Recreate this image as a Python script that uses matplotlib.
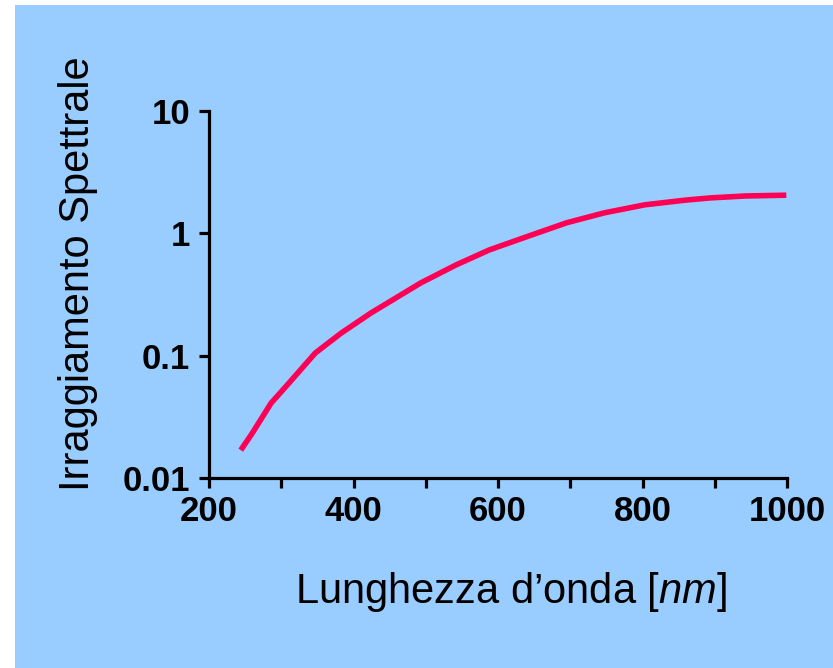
import matplotlib
matplotlib.use("Agg")
import matplotlib.pyplot as plt
from matplotlib.patches import Rectangle
from matplotlib.ticker import FixedLocator, FixedFormatter, NullLocator

# Spectral irradiance vs wavelength
wavelength = [244, 260, 286, 311, 347, 383, 424, 493, 542, 588, 639, 695,
              747, 803, 860, 895, 942, 999]
irradiance = [0.0169, 0.0233, 0.041, 0.060, 0.105, 0.153, 0.223, 0.393, 0.552,
              0.732, 0.935, 1.22, 1.47, 1.71, 1.87, 1.95, 2.02, 2.05]

x_ticks = [200, 300, 400, 500, 600, 700, 800, 900, 1000]
x_ticklabels = ["200", "", "400", "", "600", "", "800", "", "1000"]
y_ticks = [0.01, 0.1, 1, 10]
y_ticklabels = ["0.01", "0.1", "1", "10"]

FONT = ["Liberation Sans", "DejaVu Sans"]
plt.rcParams["font.family"] = FONT
plt.rcParams["mathtext.fontset"] = "custom"
plt.rcParams["mathtext.it"] = "Liberation Sans:italic"
plt.rcParams["mathtext.rm"] = "Liberation Sans"

W, H = 833, 668
fig = plt.figure(figsize=(W / 100, H / 100), dpi=100, facecolor="white")

# light blue panel behind everything
fig.patches.append(Rectangle((15 / W, 0), 1, 1 - 5 / H, transform=fig.transFigure,
                             facecolor="#99CCFF", edgecolor="none", zorder=-10))

ax = fig.add_axes([209 / W, 1 - 478 / H, (787 - 209) / W, (478 - 111) / H])
ax.set_facecolor("none")
ax.plot(wavelength, irradiance, color="#FF0055", lw=4, solid_capstyle="butt",
        solid_joinstyle="round")

ax.set_yscale("log")
ax.set_xlim(200, 1000)
ax.set_ylim(0.01, 10)

ax.xaxis.set_major_locator(FixedLocator(x_ticks))
ax.xaxis.set_major_formatter(FixedFormatter(x_ticklabels))
ax.yaxis.set_major_locator(FixedLocator(y_ticks))
ax.yaxis.set_major_formatter(FixedFormatter(y_ticklabels))
ax.yaxis.set_minor_locator(NullLocator())

for side in ("top", "right"):
    ax.spines[side].set_visible(False)
for side in ("left", "bottom"):
    ax.spines[side].set_linewidth(2.3)

ax.tick_params(direction="out", length=7.5, width=2.3, labelsize=25)
ax.tick_params(axis="x", pad=5)
ax.tick_params(axis="y", pad=6)
for lab in ax.get_xticklabels() + ax.get_yticklabels():
    lab.set_fontweight("bold")

fig.text(511 / W, 1 - 592 / H, "Lunghezza d\u2019onda [$\\mathit{nm}$]",
         ha="center", va="center", fontsize=30)
fig.text(78 / W, 1 - 274 / H, "Irraggiamento Spettrale", rotation=90,
         ha="center", va="center", fontsize=30)

fig.savefig("out.png", dpi=100)
